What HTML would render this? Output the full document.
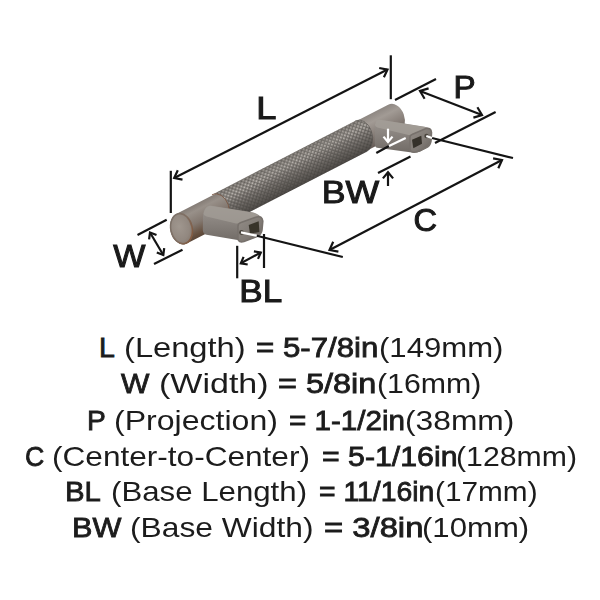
<!DOCTYPE html>
<html><head><meta charset="utf-8">
<style>
html,body{margin:0;padding:0;background:#fff;}
body{width:600px;height:600px;position:relative;overflow:hidden;font-family:"Liberation Sans",sans-serif;color:#1c1c1c;}
.sb,.sr{position:absolute;white-space:nowrap;font-size:28.5px;line-height:32px;transform-origin:0 0;}
.sb{font-weight:normal;-webkit-text-stroke:0.85px #1c1c1c;}
b{font-weight:bold;}
</style></head><body>
<svg width="600" height="320" viewBox="0 0 600 320" style="position:absolute;left:0;top:0">
<defs>
  <linearGradient id="gBarL" gradientUnits="userSpaceOnUse" x1="173.7" y1="213.6" x2="189.3" y2="243.8">
    <stop offset="0" stop-color="#7f7771"/>
    <stop offset="0.22" stop-color="#989089"/>
    <stop offset="0.55" stop-color="#837870"/>
    <stop offset="0.85" stop-color="#66503f"/>
    <stop offset="1" stop-color="#554235"/>
  </linearGradient>
  <linearGradient id="gBarR" gradientUnits="userSpaceOnUse" x1="173.7" y1="213.6" x2="189.3" y2="243.8">
    <stop offset="0" stop-color="#8a837e"/>
    <stop offset="0.28" stop-color="#a29b95"/>
    <stop offset="0.65" stop-color="#857c76"/>
    <stop offset="1" stop-color="#625853"/>
  </linearGradient>
  <linearGradient id="gKnurl" gradientUnits="userSpaceOnUse" x1="173.7" y1="213.6" x2="189.3" y2="243.8">
    <stop offset="0" stop-color="#7a7570"/>
    <stop offset="0.25" stop-color="#8f8a85"/>
    <stop offset="0.5" stop-color="#736e6a"/>
    <stop offset="0.8" stop-color="#5c5854"/>
    <stop offset="1" stop-color="#4b4744"/>
  </linearGradient>
  <linearGradient id="gSpeckMask" gradientUnits="userSpaceOnUse" x1="173.7" y1="213.6" x2="189.3" y2="243.8">
    <stop offset="0" stop-color="#333"/>
    <stop offset="0.12" stop-color="#666"/>
    <stop offset="0.3" stop-color="#c0c0c0"/>
    <stop offset="0.48" stop-color="#555"/>
    <stop offset="0.7" stop-color="#181818"/>
    <stop offset="1" stop-color="#000"/>
  </linearGradient>
  <radialGradient id="gFace" cx="0.42" cy="0.42" r="0.62">
    <stop offset="0" stop-color="#a0978f"/>
    <stop offset="0.7" stop-color="#928880"/>
    <stop offset="1" stop-color="#85776d"/>
  </radialGradient>
  <linearGradient id="gRim" x1="0" y1="0" x2="1" y2="1">
    <stop offset="0" stop-color="#6f6760" stop-opacity="0.7"/>
    <stop offset="0.5" stop-color="#7a6658" stop-opacity="0.7"/>
    <stop offset="1" stop-color="#84502f"/>
  </linearGradient>
  <pattern id="pKnurl" width="3.2" height="3.2" patternUnits="userSpaceOnUse" patternTransform="rotate(17.7)">
    <path d="M0 0H3.2M0 0V3.2" stroke="#302d2b" stroke-width="0.8" stroke-opacity="0.42"/>
  </pattern>
  <pattern id="pSpeck" width="3.2" height="3.2" patternUnits="userSpaceOnUse" patternTransform="rotate(17.7)">
    <rect x="1.0" y="1.0" width="1.4" height="1.4" fill="#cfcac4"/>
  </pattern>
  <mask id="mSpeck" maskUnits="userSpaceOnUse" x="150" y="80" width="300" height="180">
    <rect x="150" y="80" width="300" height="180" fill="url(#gSpeckMask)"/>
  </mask>
  <linearGradient id="gPost" x1="0" y1="0" x2="0" y2="1">
    <stop offset="0" stop-color="#99938d"/>
    <stop offset="0.35" stop-color="#8d8782"/>
    <stop offset="1" stop-color="#716b66"/>
  </linearGradient>
  <linearGradient id="gFaceP" x1="0" y1="0" x2="1" y2="1">
    <stop offset="0" stop-color="#938d87"/>
    <stop offset="0.6" stop-color="#7f7974"/>
    <stop offset="1" stop-color="#65605b"/>
  </linearGradient>
</defs>
<path d="M352.63,123.08 L388.16,104.78 A11.30 15.80 -12.0 0 1 398.84,134.22 L363.31,152.52 A11.30 15.80 -12.0 0 0 352.63,123.08 Z" fill="url(#gBarR)"/>
<path d="M176.16,213.98 L213.59,194.70 A11.30 15.80 -12.0 0 1 224.27,224.14 L186.84,243.42 A11.30 15.80 -12.0 0 1 176.16,213.98 Z" fill="url(#gBarL)"/>
<path d="M211.99,194.65 L355.03,120.97 A11.87 16.59 -12.0 0 1 366.24,151.89 L223.20,225.56 A11.87 16.59 -12.0 0 0 211.99,194.65 Z" fill="url(#gKnurl)"/>
<path d="M211.99,194.65 L355.03,120.97 A11.87 16.59 -12.0 0 1 366.24,151.89 L223.20,225.56 A11.87 16.59 -12.0 0 0 211.99,194.65 Z" fill="url(#pKnurl)"/>
<path d="M211.99,194.65 L355.03,120.97 A11.87 16.59 -12.0 0 1 366.24,151.89 L223.20,225.56 A11.87 16.59 -12.0 0 0 211.99,194.65 Z" fill="url(#pSpeck)" mask="url(#mSpeck)"/>
<path d="M211.99,194.65 A11.87 16.59 -12.0 0 1 223.20,225.56" fill="none" stroke="#7b5540" stroke-width="1.0" stroke-opacity="0.8"/>
<path d="M355.03,120.97 A11.87 16.59 -12.0 0 1 366.24,151.89" fill="none" stroke="#5a5652" stroke-width="0.8" stroke-opacity="0.7"/>
<ellipse cx="181.5" cy="228.7" rx="11.3" ry="15.8" transform="rotate(-12.0 181.5 228.7)" fill="url(#gFace)"/>
<ellipse cx="181.5" cy="228.7" rx="10.700000000000001" ry="15.200000000000001" transform="rotate(-12.0 181.5 228.7)" fill="none" stroke="url(#gRim)" stroke-width="1.6"/>
<!-- left post -->
<path d="M210,205.6 L252,212.3 Q259,213.6 262,218.5 Q264,224 261.3,231.7 Q259,236 255.3,237.5 L244,241.5 Q239,242 237.5,240 L206.5,234.7 Q203,234 202.8,230 L203,215 Q204,206.5 210,205.6 Z" fill="url(#gPost)"/>
<path d="M210,205.8 L252,212.5 Q256.5,213.4 258.5,216.2 L241,222.8 Q238.5,223.8 236,223.5 L206.5,216.5 Q203.3,215.5 203.5,213.5 Q205,206.5 210,205.8 Z" fill="#a39d97" fill-opacity="0.75"/>
<path d="M238,226 Q238,223.5 241,222.5 L256.5,217 Q262,215.5 262.8,221 L262,230 Q261.5,234.5 257,236.5 L244,241.5 Q238.5,243 238,238.5 Z" fill="url(#gFaceP)" stroke="#77716c" stroke-width="1.6"/>
<path d="M248.7,225 L258.7,221.2 L259.4,231.9 L250,233.7 Z" fill="#38342a"/>
<circle cx="241.5" cy="232.5" r="2.4" fill="#4a453e"/>
<!-- right post -->
<path d="M379,119.4 L424.7,126.8 Q430,127.8 431.5,132 Q432.5,137 430,144 Q428.5,147.5 425,149 L420,151.7 Q414,153.3 410,152.3 L377,147.7 Q374.7,147 374.7,143.5 L374.8,126 Q375.5,120 379,119.4 Z" fill="url(#gPost)"/>
<path d="M379,119.6 L424.7,127 Q426.5,127.4 427.5,128.3 L412,134.8 Q410.5,135.3 408.5,135 L377.5,127.5 Q375,126.8 375,125 Q375.6,120 379,119.6 Z" fill="#a6a09a" fill-opacity="0.75"/>
<path d="M410,137 Q410,135.3 412,134.5 L426,128.5 Q431,127.5 431.5,132.5 L431,141 Q430,146 426.5,147.5 L417,151.8 Q410.5,153.3 410,149 Z" fill="url(#gFaceP)" stroke="#77716c" stroke-width="1.6"/>
<path d="M412,139.7 L421.3,135.7 L422,143.7 L413.3,148.3 Z" fill="#35312a"/>
<circle cx="426.5" cy="136" r="2.2" fill="#4a453e"/>


<g stroke="#141414" stroke-width="2.2" fill="none" stroke-linecap="butt">
<line x1="170.8" y1="170.8" x2="170.8" y2="213"/>
<line x1="390.8" y1="55.3" x2="390.8" y2="99.2"/>
<line x1="174.2" y1="178" x2="387.5" y2="69.6"/><polyline points="182.5,179.6 174.2,178.0 177.8,170.3"/><polyline points="379.2,68.0 387.5,69.6 383.9,77.3"/>
<line x1="137.5" y1="235" x2="166.7" y2="219.7"/>
<line x1="154" y1="264" x2="182.5" y2="249.7"/>
<line x1="150" y1="232.5" x2="163.3" y2="255"/><polyline points="149.1,239.4 150.0,232.5 156.5,235.1"/><polyline points="164.2,248.1 163.3,255.0 156.8,252.4"/>
<line x1="395" y1="100" x2="436" y2="79"/>
<line x1="435" y1="143" x2="495.6" y2="112"/>
<line x1="420" y1="91" x2="482" y2="115"/><polyline points="424.6,98.7 420.0,91.0 428.6,88.4"/><polyline points="477.4,107.3 482.0,115.0 473.4,117.6"/>
<line x1="432" y1="138" x2="513" y2="158"/>
<line x1="256.7" y1="235.8" x2="342.8" y2="257"/>
<line x1="329.5" y1="250" x2="502" y2="160"/><polyline points="338.4,251.6 329.5,250.0 333.2,241.8"/><polyline points="493.1,158.4 502.0,160.0 498.3,168.2"/>
<line x1="237.2" y1="245.8" x2="237.2" y2="278.3"/>
<line x1="264" y1="234" x2="264" y2="268"/>
<line x1="240.8" y1="263.3" x2="260.8" y2="252.5"/><polyline points="247.7,264.5 240.8,263.3 243.6,256.9"/><polyline points="253.9,251.3 260.8,252.5 258.0,258.9"/>
<line x1="376.3" y1="153" x2="389" y2="146"/>
<line x1="378" y1="173" x2="410.5" y2="156.5"/>
<line x1="388" y1="172.3" x2="388" y2="186"/><polyline points="382.9,178.4 388.0,172.3 393.1,178.4"/>
</g>
<g stroke="#ffffff" stroke-width="2.2" fill="none">
<line x1="241" y1="232.3" x2="256.7" y2="235.7"/>
<line x1="426.3" y1="136" x2="432" y2="138"/>
<line x1="389" y1="146" x2="405.7" y2="138"/>
<line x1="388" y1="128.7" x2="388" y2="142"/><polyline points="392.5,136.6 388.0,142.0 383.5,136.6"/>
</g>
<g style="will-change:transform" fill="#1a1a1a" stroke="#1a1a1a" stroke-width="1.0" font-family="Liberation Sans, sans-serif" font-size="31">
<text transform="matrix(1.17 0 0 1 -45.6 0)" x="258" y="119.3">L</text>
<text transform="matrix(1.10 0 0 1 -10.0 0)" x="112" y="267.5">W</text>
<text transform="matrix(1.07 0 0 1 -32.2 0)" x="454" y="98">P</text>
<text transform="matrix(1.05 0 0 1 -21.3 0)" x="414" y="231">C</text>
<text transform="matrix(1.15 0 0 1 -47.5 0)" x="321" y="202.6">BW</text>
<text transform="matrix(1.13 0 0 1 -33.0 0)" x="241" y="302.4">BL</text>
</g>
</svg>

<span class="sb" style="left:99.0px;top:331.3px;transform:scaleX(1.000)">L</span>
<span class="sr" style="left:124.2px;top:331.3px;transform:scaleX(1.146)">(Length)</span>
<span class="sb" style="left:256.4px;top:331.3px;transform:scaleX(1.096)">= 5-7/8in</span>
<span class="sr" style="left:379.3px;top:331.3px;transform:scaleX(1.091)">(149mm)</span>
<span class="sb" style="left:121.0px;top:366.5px;transform:scaleX(1.056)">W</span>
<span class="sr" style="left:158.6px;top:366.5px;transform:scaleX(1.193)">(Width)</span>
<span class="sb" style="left:278.2px;top:366.5px;transform:scaleX(1.139)">= 5/8in</span>
<span class="sr" style="left:376.9px;top:366.5px;transform:scaleX(1.063)">(16mm)</span>
<span class="sb" style="left:87.2px;top:403.5px;transform:scaleX(0.987)">P</span>
<span class="sr" style="left:114.0px;top:403.5px;transform:scaleX(1.125)">(Projection)</span>
<span class="sb" style="left:289.0px;top:403.5px;transform:scaleX(1.039)">= 1-1/2in</span>
<span class="sr" style="left:404.5px;top:403.5px;transform:scaleX(1.114)">(38mm)</span>
<span class="sb" style="left:24.5px;top:439.6px;transform:scaleX(0.937)">C</span>
<span class="sr" style="left:52.4px;top:439.6px;transform:scaleX(1.108)">(Center-to-Center)</span>
<span class="sb" style="left:322.2px;top:439.6px;transform:scaleX(1.062)">= 5-1/16in</span>
<span class="sr" style="left:456.2px;top:439.6px;transform:scaleX(1.061)">(128mm)</span>
<span class="sb" style="left:64.6px;top:475.0px;transform:scaleX(1.030)">BL</span>
<span class="sr" style="left:111.1px;top:475.0px;transform:scaleX(1.095)">(Base Length)</span>
<span class="sb" style="left:319.0px;top:475.0px;transform:scaleX(0.994)">= 11/16in</span>
<span class="sr" style="left:434.6px;top:475.0px;transform:scaleX(1.045)">(17mm)</span>
<span class="sb" style="left:71.5px;top:511.4px;transform:scaleX(1.075)">BW</span>
<span class="sr" style="left:130.1px;top:511.4px;transform:scaleX(1.114)">(Base Width)</span>
<span class="sb" style="left:323.8px;top:511.4px;transform:scaleX(1.151)">= 3/8in</span>
<span class="sr" style="left:422.1px;top:511.4px;transform:scaleX(1.092)">(10mm)</span>
</body></html>
